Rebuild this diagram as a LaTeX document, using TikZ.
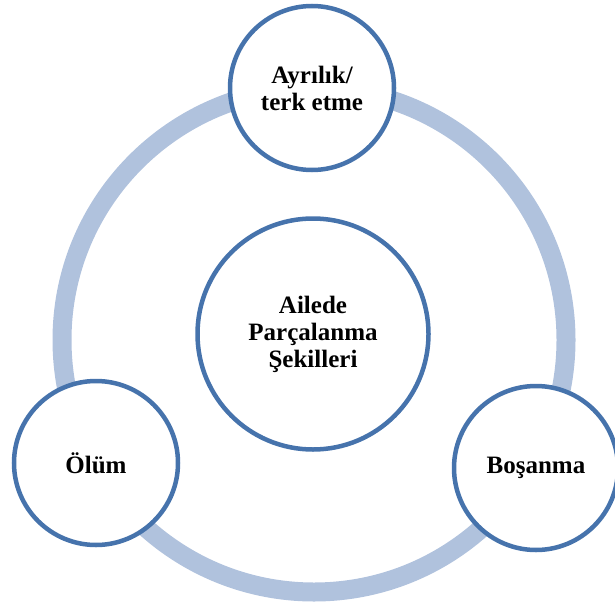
\documentclass[tikz,border=0pt]{standalone}
\usepackage{fontspec}
\setmainfont{Liberation Serif}
\definecolor{ringcol}{HTML}{B0C2DD}
\definecolor{edgecol}{HTML}{4673AC}
\begin{document}
\begin{tikzpicture}[x=1pt,y=-1pt,
  ringstyle/.style={draw=ringcol,line width=19pt},
  bubble/.style={circle,draw=edgecol,line width=4.5pt,fill=white,
    align=center,inner sep=0pt,font=\bfseries\fontsize{25}{27}\selectfont},
  smallbubble/.style={bubble,minimum size=164pt},
  bigbubble/.style={bubble,minimum size=231pt}]
\useasboundingbox (0,0) rectangle (615,604);
\coordinate (c) at (314,340);
\draw[ringstyle] (c) circle (252);
\node[bigbubble] (mid) at (313,334) {Ailede\\Parçalanma\\Şekilleri};
\node[smallbubble] (top) at (312,88) {Ayrılık/\\terk etme};
\node[smallbubble] (left) at (96,463) {Ölüm};
\node[smallbubble] (right) at (536,468) {Boşanma};
\end{tikzpicture}
\end{document}
